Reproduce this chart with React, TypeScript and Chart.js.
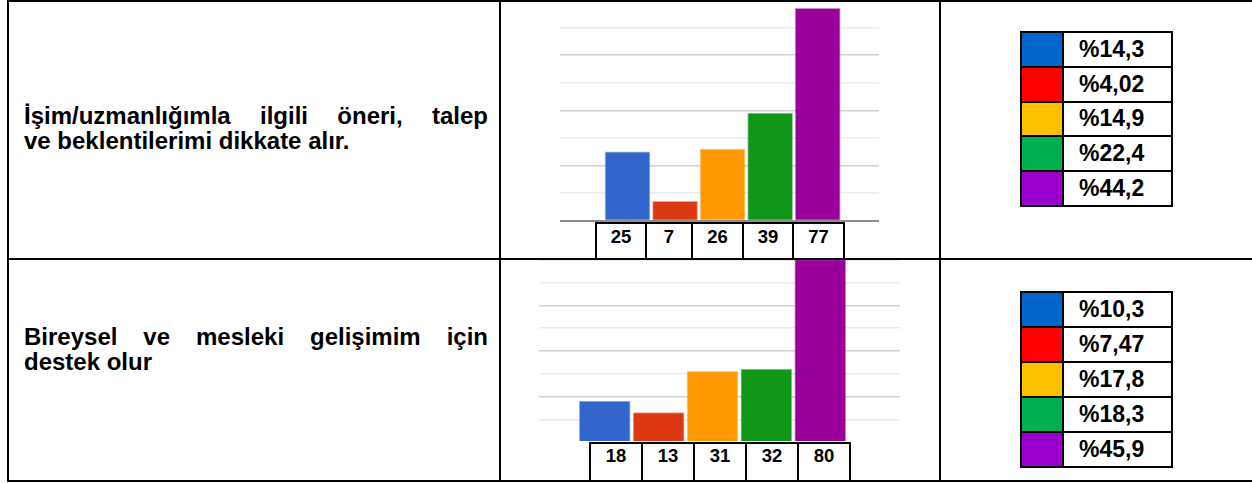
import React, { useEffect, useRef } from 'react';
import { Chart, registerables } from 'chart.js';

Chart.register(...registerables);

// ---------- data ----------
const categories = ['1', '2', '3', '4', '5'];
const question1Lines = ['İşim/uzmanlığımla ilgili öneri, talep', 've beklentilerimi dikkate alır.'];
const counts1 = [25, 7, 26, 39, 77];
const percents1 = ['%14,3', '%4,02', '%14,9', '%22,4', '%44,2'];
const question2Lines = ['Bireysel ve mesleki gelişimim için', 'destek olur'];
const counts2 = [18, 13, 31, 32, 80];
const percents2 = ['%10,3', '%7,47', '%17,8', '%18,3', '%45,9'];
const yMin = 0;
const yMax = 80;
const yStep = 10;

// ---------- styles ----------
const barColors = ['#3366cc', '#dc3912', '#ff9900', '#109618', '#990099'];
const barEdgeColors = ['rgba(51,102,204,0.45)', 'rgba(220,57,18,0.45)', 'rgba(255,153,0,0.45)', 'rgba(16,150,24,0.45)', 'rgba(153,0,153,0.45)'];
const legendColors = ['#0066cc', '#ff0000', '#ffc000', '#00b050', '#9900cc'];
const FONT = '"Liberation Sans", Arial, Helvetica, sans-serif';

type Pad = { left: number; right: number; top: number; bottom: number };

function BarChart(props: {
  values: number[];
  left: number; top: number; width: number; height: number;
  padding: Pad; xMin: number; xMax: number; barThickness: number; showBaseline: boolean;
}) {
  const ref = useRef<HTMLCanvasElement>(null);
  useEffect(() => {
    const chart = new Chart(ref.current as HTMLCanvasElement, {
      type: 'bar',
      data: {
        labels: categories,
        datasets: [
          {
            data: props.values.map((v, i) => ({ x: i, y: v })) as any,
            backgroundColor: barColors,
            borderColor: barEdgeColors,
            borderWidth: 1,
            barThickness: props.barThickness,
          },
        ],
      },
      options: {
        animation: false,
        responsive: false,
        maintainAspectRatio: false,
        events: [],
        layout: { padding: props.padding },
        plugins: { legend: { display: false }, tooltip: { enabled: false } },
        scales: {
          x: { type: 'linear', min: props.xMin, max: props.xMax, offset: false, bounds: 'data', display: false },
          y: {
            min: yMin,
            max: yMax,
            ticks: { display: false, stepSize: yStep },
            border: { display: false },
            grid: {
              drawTicks: false,
              color: (ctx: any) => {
                const v = ctx.tick.value;
                if (v === 0) return props.showBaseline ? '#8c8c8c' : 'rgba(0,0,0,0)';
                return v % 20 === 0 ? '#d2d2d2' : '#ebebeb';
              },
              lineWidth: (ctx: any) => (ctx.tick.value === 0 ? 2 : 1.5),
            },
          },
        },
      } as any,
    });
    return () => chart.destroy();
  }, []);
  return (
    <canvas
      ref={ref}
      width={props.width}
      height={props.height}
      style={{ position: 'absolute', left: props.left, top: props.top, width: props.width, height: props.height }}
    />
  );
}

function NumberBoxes(props: { values: number[]; lefts: number[]; top: number; bottom: number; textTop: number }) {
  const { values, lefts, top, bottom } = props;
  return (
    <>
      {values.map((v, i) => (
        <div
          key={i}
          style={{
            position: 'absolute',
            left: lefts[i],
            top,
            width: lefts[i + 1] - lefts[i] + 2,
            height: bottom - top,
            boxSizing: 'border-box',
            border: '2px solid #000',
            background: '#fff',
            fontFamily: FONT,
            fontWeight: 'bold',
            fontSize: 18.5,
            lineHeight: '20px',
            textAlign: 'center',
            paddingTop: props.textTop,
            color: '#000',
          }}
        >
          {v}
        </div>
      ))}
    </>
  );
}

function LegendTable(props: { labels: string[]; left: number; top: number; width: number; height: number }) {
  return (
    <div
      style={{
        position: 'absolute',
        left: props.left,
        top: props.top,
        width: props.width,
        height: props.height,
        boxSizing: 'border-box',
        border: '2px solid #000',
        display: 'flex',
        flexDirection: 'column',
        background: '#fff',
      }}
    >
      {props.labels.map((t, i) => (
        <div
          key={i}
          style={{
            flex: 1,
            display: 'flex',
            borderTop: i > 0 ? '2px solid #000' : 'none',
          }}
        >
          <div style={{ width: 40, background: legendColors[i], borderRight: '2px solid #000' }} />
          <div
            style={{
              flex: 1,
              display: 'flex',
              alignItems: 'center',
              paddingLeft: 15,
              fontFamily: FONT,
              fontWeight: 'bold',
              fontSize: 23,
              color: '#000',
            }}
          >
            {t}
          </div>
        </div>
      ))}
    </div>
  );
}

function QuestionText(props: { lines: string[]; top: number }) {
  return (
    <div
      style={{
        position: 'absolute',
        left: 24,
        top: props.top,
        width: 464,
        fontFamily: FONT,
        fontWeight: 'bold',
        fontSize: 24,
        lineHeight: '25px',
        color: '#000',
      }}
    >
      <div style={{ textAlign: 'justify', textAlignLast: 'justify' as any, whiteSpace: 'nowrap' }}>
        {props.lines[0]}
      </div>
      <div style={{ textAlign: 'left' }}>{props.lines[1]}</div>
    </div>
  );
}

function Line(props: { left: number; top: number; width: number; height: number }) {
  return (
    <div
      style={{
        position: 'absolute',
        left: props.left,
        top: props.top,
        width: props.width,
        height: props.height,
        background: '#000',
        zIndex: 5,
      }}
    />
  );
}

export default function App() {
  return (
    <div style={{ position: 'absolute', left: 0, top: 0, width: 1252, height: 483, background: '#fff', overflow: 'hidden' }}>
      {/* row 1 */}
      <QuestionText lines={question1Lines} top={103} />
      <BarChart
        values={counts1}
        left={501}
        top={0}
        width={438}
        height={258}
        padding={{ left: 59, right: 60, top: 0, bottom: 37.3 }}
        xMin={-1.42}
        xMax={5.29}
        barThickness={45}
        showBaseline={true}
      />
      <NumberBoxes values={counts1} lefts={[595, 645, 691, 742, 792, 843]} top={222} bottom={260} textTop={3} />
      <LegendTable labels={percents1} left={1020} top={31} width={153} height={176} />

      {/* row 2 */}
      <QuestionText lines={question2Lines} top={324} />
      <BarChart
        values={counts2}
        left={501}
        top={259}
        width={438}
        height={221}
        padding={{ left: 38, right: 39, top: 0.7, bottom: 37.9 }}
        xMin={-1.22}
        xMax={5.48}
        barThickness={51}
        showBaseline={false}
      />
      <NumberBoxes values={counts2} lefts={[589, 641, 693, 745, 797, 849]} top={442} bottom={482} textTop={2} />
      <LegendTable labels={percents2} left={1020} top={291} width={153} height={177} />

      {/* table borders */}
      <Line left={7} top={0} width={1260} height={2} />
      <Line left={7} top={0} width={2} height={482} />
      <Line left={499} top={0} width={2} height={482} />
      <Line left={939} top={0} width={2} height={482} />
      <Line left={7} top={258} width={1260} height={2} />
      <Line left={7} top={480} width={1260} height={2} />
    </div>
  );
}
